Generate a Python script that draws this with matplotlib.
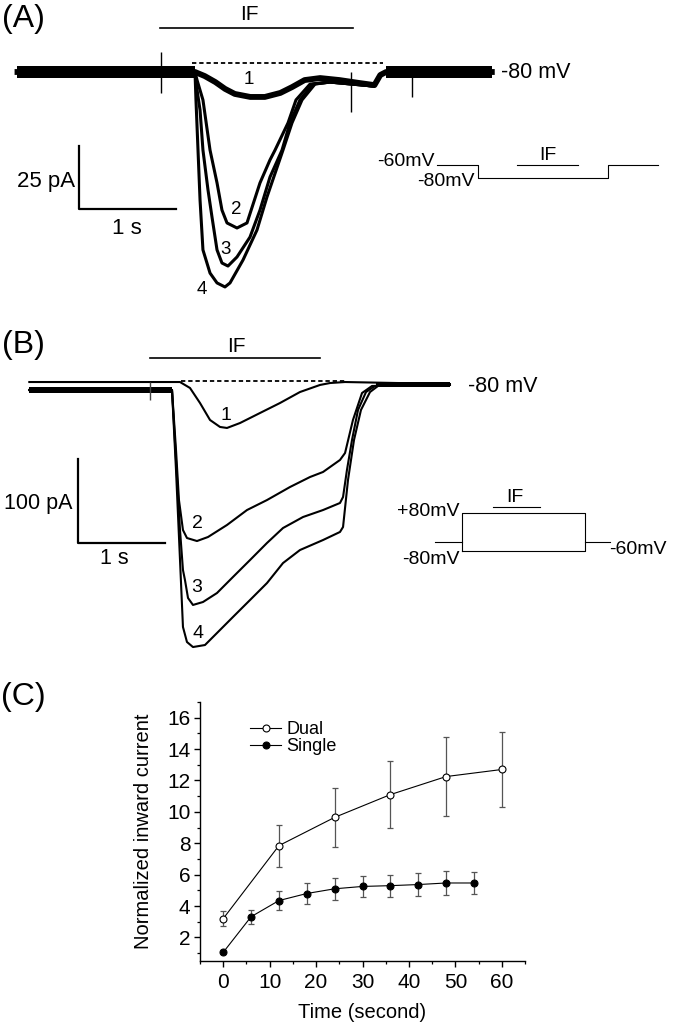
import matplotlib
matplotlib.use("Agg")
import matplotlib.pyplot as plt
from matplotlib.ticker import MultipleLocator

plt.rcParams['font.family'] = ['Liberation Sans', 'DejaVu Sans']

W, H = 674, 1026

# ---------------- Panel A data (time in s, current in pA) ----------------
a_t1 = [-1.83, 0.0, 0.10, 0.21, 0.31, 0.41, 0.57, 0.72, 0.88, 1.0, 1.13, 1.29, 1.49, 1.70, 1.85, 1.91, 1.97, 3.06]
a_i1 = [0, 0, -1.6, -4.0, -6.7, -8.7, -9.9, -9.9, -8.3, -6.0, -3.2, -2.4, -3.2, -4.4, -5.2, -1.2, 0, 0]

a_t2 = [-1.83, 0.0, 0.021, 0.082, 0.155, 0.227, 0.278, 0.330, 0.433, 0.536, 0.670, 0.773, 0.825, 0.959,
        1.041, 1.186, 1.392, 1.845, 1.907, 1.969, 3.06]
a_i2 = [0, 0, -3.2, -11.1, -31.0, -44.0, -54.8, -59.9, -61.9, -59.9, -44.0, -34.9, -31.0, -20.2,
        -11.1, -4.8, -4.0, -5.6, -1.2, 0, 0]

a_t3 = [-1.83, 0.0, 0.021, 0.052, 0.082, 0.134, 0.175, 0.227, 0.278, 0.340, 0.433, 0.567, 0.670, 0.773,
        0.897, 0.979, 1.082, 1.216, 1.392, 1.845, 1.907, 1.969, 3.06]
a_i3 = [0, 0, -7.1, -15.1, -31.0, -46.8, -57.5, -70.6, -75.8, -77.0, -73.4, -65.5, -54.8, -41.7,
        -31.0, -20.2, -11.1, -4.8, -4.0, -5.6, -1.2, 0, 0]

a_t4 = [-1.83, 0.0, 0.010, 0.031, 0.052, 0.082, 0.155, 0.227, 0.309, 0.361, 0.495, 0.639, 0.742, 0.907,
        1.0, 1.103, 1.237, 1.392, 1.845, 1.907, 1.969, 3.06]
a_i4 = [0, 0, -11.1, -31.0, -50.8, -70.6, -79.8, -83.7, -85.3, -83.7, -74.6, -62.7, -49.6, -31.0,
        -20.2, -11.1, -4.8, -4.0, -5.6, -1.2, 0, 0]

a_spike_t = [-0.35, 1.61, 2.24]
a_spike_hi = [7.9, 0.0, 0.0]
a_spike_lo = [-8.3, -15.9, -9.9]

a_noise_pA = 2.2
a_dash_t = [-0.03, 1.94]
a_dash_i = 3.6

# ---------------- Panel B data (time in s, current in pA) ----------------
b_t1 = [-1.64, 0.092, 0.207, 0.322, 0.437, 0.552, 0.632, 0.782, 1.011, 1.241, 1.471, 1.701, 1.816, 1.989, 3.195]
b_i1 = [9.5, 9.5, 2.4, -15.5, -35.7, -44.0, -45.2, -39.3, -27.4, -15.5, -2.4, 6.0, 8.3, 9.5, 7.1]

b_t2 = [-1.64, 0, 0.046, 0.080, 0.126, 0.172, 0.287, 0.414, 0.632, 0.862, 1.092, 1.356, 1.586, 1.736,
        1.931, 1.989, 2.080, 2.184, 2.299, 3.195]
b_i2 = [0, 0, -71.4, -131.0, -166.7, -176.2, -179.8, -175.0, -160.7, -142.9, -131.0, -115.5, -103.6, -97.6,
        -83.3, -75.0, -35.7, -3.6, 4.8, 6.0]

b_t3 = [-1.64, 0, 0.046, 0.092, 0.126, 0.149, 0.184, 0.241, 0.356, 0.517, 0.701, 0.897, 1.092, 1.276,
        1.506, 1.736, 1.931, 1.966, 2.011, 2.069, 2.138, 2.230, 2.333, 3.195]
b_i3 = [0, 0, -83.3, -166.7, -214.3, -226.2, -247.6, -255.9, -252.4, -241.7, -222.6, -202.4, -182.1, -164.3,
        -151.2, -142.9, -134.5, -127.4, -95.2, -59.5, -23.8, -2.4, 4.8, 6.0]

b_t4 = [-1.64, 0, 0.046, 0.092, 0.126, 0.172, 0.241, 0.379, 0.517, 0.701, 0.897, 1.092, 1.276, 1.471,
        1.736, 1.931, 1.966, 2.023, 2.092, 2.172, 2.276, 2.368, 3.195]
b_i4 = [0, 0, -95.2, -202.4, -282.1, -300.0, -306.0, -303.6, -289.3, -270.2, -250.0, -229.8, -206.0, -190.5,
        -178.6, -169.0, -163.1, -107.1, -59.5, -23.8, -2.4, 4.8, 6.0]

b_spike_t = [-0.25]
b_spike_hi = [9.5]
b_spike_lo = [-12.0]

b_noise_pA = 3.0
b_dash_t = [0.10, 1.99]
b_dash_i = 10.7

# ---------------- Voltage protocols (schematic time units, mV) ----------------
pa_t = [0, 0.41, 0.41, 1.71, 1.71, 2.21]
pa_v = [-60, -60, -80, -80, -60, -60]
pa_if = [0.80, 1.41]

pb_box_t = [0, 0, 1.23, 1.23, 0]
pb_box_v = [-80, 80, 80, -80, -80]
pb_hold_v = -42
pb_stub_l = [-0.27, 0]
pb_stub_r = [1.23, 1.48]
pb_if = [0.31, 0.78]
pb_if_v = 105

# ---------------- Panel C data ----------------
c_dual_t = [0, 12, 24, 36, 48, 60]
c_dual_y = [3.2, 7.85, 9.65, 11.1, 12.25, 12.7]
c_dual_err = [0.48, 1.33, 1.9, 2.12, 2.52, 2.4]

c_single_t = [0, 6, 12, 18, 24, 30, 36, 42, 48, 54]
c_single_y = [1.05, 3.32, 4.35, 4.8, 5.1, 5.25, 5.3, 5.37, 5.47, 5.47]
c_single_err = [0.0, 0.45, 0.58, 0.65, 0.7, 0.65, 0.7, 0.72, 0.75, 0.7]

# ======================================================================
fig = plt.figure(figsize=(W / 100, H / 100), dpi=100)


def px_axes(left, top, right, bottom, x0, xv0, sx, y0, yv0, sy):
    """Axes over a pixel box; pixel (x0, y0) shows data (xv0, yv0); sx, sy are px per data unit."""
    ax = fig.add_axes([left / W, 1 - bottom / H, (right - left) / W, (bottom - top) / H])
    ax.set_xlim(xv0 + (left - x0) / sx, xv0 + (right - x0) / sx)
    ax.set_ylim(yv0 + (y0 - bottom) / sy, yv0 + (y0 - top) / sy)
    ax.axis('off')
    ax.patch.set_alpha(0)
    return ax


# overlay for text (pixel coordinates)
ov = fig.add_axes([0, 0, 1, 1])
ov.set_xlim(0, W)
ov.set_ylim(H, 0)
ov.axis('off')
ov.patch.set_alpha(0)


def txt(x, y, s, size, ha='center', va='center'):
    ov.text(x, y, s, fontsize=size, ha=ha, va=va, color='black')


# ---------------- Panel A ----------------
axA = px_axes(0, 0, 674, 320, 195, 0, 97, 72, 0, 2.52)
axA.plot(a_t1, a_i1, color='black', lw=4.2, solid_joinstyle='round')
for t, i in [(a_t2, a_i2), (a_t3, a_i3), (a_t4, a_i4)]:
    axA.plot(t, i, color='black', lw=2.2, solid_joinstyle='round')
axA.fill_between([a_t1[0], 0.0], -a_noise_pA, a_noise_pA, color='black', lw=0)
axA.fill_between([1.97, a_t1[-1]], -a_noise_pA, a_noise_pA, color='black', lw=0)
axA.vlines(a_spike_t, a_spike_lo, a_spike_hi, color='black', lw=1.0)
axA.plot(a_dash_t, [a_dash_i, a_dash_i], color='black', lw=1.3, dashes=(2.4, 1.6))
# IF bar and scale bars
axA.plot([-0.36, 1.63], [17.5, 17.5], color='black', lw=1.2)
axA.plot([-1.196, -1.196, -0.196], [-29.4, -54.4, -54.4], color='black', lw=1.6)

txt(23, 19, '(A)', 23)
txt(249, 15, 'IF', 15)
txt(501, 73, '-80 mV', 15.5, ha='left')
txt(75, 182, '25 pA', 16, ha='right')
txt(127, 228, '1 s', 16)
txt(249, 80, '1', 13.5)
txt(236, 210, '2', 13.5)
txt(226, 249, '3', 13.5)
txt(202, 290, '4', 13.5)

# protocol inset A
axPA = px_axes(420, 140, 670, 195, 437, 0, 100, 165, -60, 0.65)
axPA.plot(pa_t, pa_v, color='black', lw=0.8)
axPA.plot(pa_if, [-60, -60], color='black', lw=0.8)
txt(435, 161, '-60mV', 14, ha='right')
txt(475, 182, '-80mV', 14, ha='right')
txt(548, 155, 'IF', 14)

# ---------------- Panel B ----------------
axB = px_axes(0, 320, 674, 680, 172, 0, 87, 390, 0, 0.84)
for t, i in [(b_t1, b_i1), (b_t2, b_i2), (b_t3, b_i3), (b_t4, b_i4)]:
    axB.plot(t, i, color='black', lw=1.5, solid_joinstyle='round')
axB.fill_between([b_t2[0], 0.0], -b_noise_pA, b_noise_pA, color='black', lw=0)
axB.fill_between([2.35, b_t2[-1]], 6.0 - b_noise_pA, 6.0 + b_noise_pA, color='black', lw=0)
axB.vlines(b_spike_t, b_spike_lo, b_spike_hi, color='#444444', lw=1.0)
axB.plot(b_dash_t, [b_dash_i, b_dash_i], color='black', lw=1.3, dashes=(2.4, 1.6))
axB.plot([-0.25, 1.70], [38.1, 38.1], color='black', lw=1.2)
axB.plot([-1.080, -1.080, -0.080], [-82.1, -182.1, -182.1], color='black', lw=1.6)

txt(23, 345, '(B)', 23)
txt(236, 347, 'IF', 15)
txt(468, 387, '-80 mV', 15.5, ha='left')
txt(72, 503, '100 pA', 15.5, ha='right')
txt(114, 558, '1 s', 15.5)
txt(226, 416, '1', 14)
txt(197, 524, '2', 14)
txt(197, 588, '3', 14)
txt(198, 633, '4', 14)

# protocol inset B
axPB = px_axes(420, 490, 670, 570, 462, 0, 100, 513, 80, 0.2375)
axPB.plot(pb_box_t, pb_box_v, color='black', lw=0.8)
axPB.plot(pb_stub_l, [pb_hold_v, pb_hold_v], color='black', lw=0.8)
axPB.plot(pb_stub_r, [pb_hold_v, pb_hold_v], color='black', lw=0.8)
axPB.plot(pb_if, [pb_if_v, pb_if_v], color='black', lw=0.8)
txt(460, 512, '+80mV', 14, ha='right')
txt(460, 559, '-80mV', 14, ha='right')
txt(609, 549, '-60mV', 14, ha='left')
txt(515, 498, 'IF', 14)

# ---------------- Panel C ----------------
txt(23, 697, '(C)', 23)
axC = fig.add_axes([200 / W, (H - 961) / H, 325 / W, 259 / H])
axC.errorbar(c_dual_t, c_dual_y, yerr=c_dual_err, fmt='none', ecolor='#555555',
             elinewidth=0.9, capsize=2.5, capthick=0.9, zorder=2)
axC.errorbar(c_single_t, c_single_y, yerr=c_single_err, fmt='none', ecolor='#555555',
             elinewidth=0.9, capsize=2.5, capthick=0.9, zorder=2)
axC.plot(c_dual_t, c_dual_y, '-o', color='black', lw=0.8, ms=5, mfc='white', mec='black',
         mew=0.8, label='Dual', zorder=3)
axC.plot(c_single_t, c_single_y, '-o', color='black', lw=0.8, ms=5, mfc='black', mec='black',
         mew=0.8, label='Single', zorder=3)
axC.set_xlim(-5, 65)
axC.set_ylim(0.5, 17)
axC.xaxis.set_major_locator(MultipleLocator(10))
axC.xaxis.set_minor_locator(MultipleLocator(5))
axC.yaxis.set_major_locator(MultipleLocator(2))
axC.yaxis.set_minor_locator(MultipleLocator(1))
axC.spines['top'].set_visible(False)
axC.spines['right'].set_visible(False)
for s in ['left', 'bottom']:
    axC.spines[s].set_linewidth(1.0)
axC.tick_params(which='major', direction='out', length=4, width=1.0, labelsize=15, pad=3)
axC.tick_params(which='minor', direction='out', length=2.5, width=0.9)
axC.tick_params(axis='x', which='major', pad=5)
axC.set_xlabel('Time (second)', fontsize=14.5)
axC.set_ylabel('Normalized inward current', fontsize=14.5)
axC.yaxis.set_label_coords(-0.145, 0.5)
axC.xaxis.set_label_coords(0.5, -0.163)
axC.legend(loc='upper left', bbox_to_anchor=(0.155, 0.925), frameon=False, fontsize=13,
           handlelength=1.7, handletextpad=0.3, labelspacing=0.0, borderaxespad=0.0,
           borderpad=0.0, numpoints=1)

fig.savefig('out.png', dpi=100)
